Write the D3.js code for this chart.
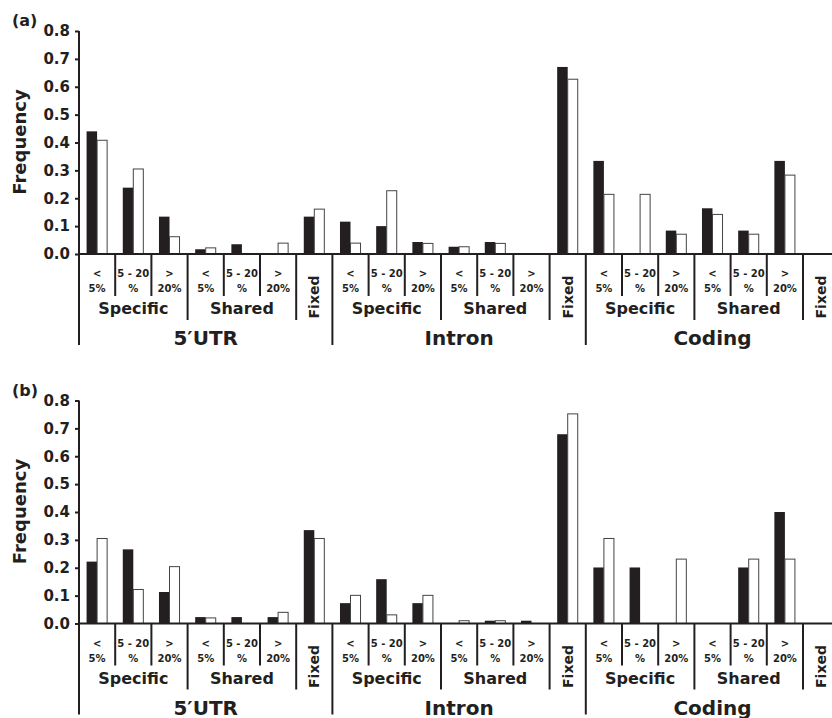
<!DOCTYPE html>
<html>
<head>
<meta charset="utf-8">
<script src="https://cdn.jsdelivr.net/npm/d3@7"></script>
<style>
  body { margin: 0; background: #fff; }
  text { font-family: "DejaVu Sans", sans-serif; font-weight: bold; fill: #231f20; }
</style>
</head>
<body>
<div id="chart"></div>
<script>
// categories
var regions = ["5′UTR", "Intron", "Coding"];
var groups = ["Specific", "Shared", "Fixed"];
var binLabels = [["<", "5%"], ["5 - 20", "%"], [">", "20%"]];
var yTicks = [0, 0.1, 0.2, 0.3, 0.4, 0.5, 0.6, 0.7, 0.8];

// series values, one per slot (region x group x bin)
var aBlack = [0.44, 0.238, 0.134, 0.017, 0.035, 0, 0.134,
              0.116, 0.100, 0.043, 0.026, 0.043, 0, 0.671,
              0.334, 0, 0.084, 0.164, 0.084, 0.334, 0];
var aWhite = [0.408, 0.305, 0.062, 0.022, 0, 0.039, 0.161,
              0.039, 0.227, 0.038, 0.026, 0.038, 0, 0.627,
              0.214, 0.214, 0.071, 0.142, 0.071, 0.283, 0];
var bBlack = [0.222, 0.266, 0.113, 0.023, 0.023, 0.023, 0.335,
              0.073, 0.159, 0.073, 0, 0.01, 0.01, 0.679,
              0.201, 0.201, 0, 0, 0.201, 0.40, 0];
var bWhite = [0.305, 0.122, 0.204, 0.020, 0, 0.040, 0.305,
              0.101, 0.031, 0.101, 0.01, 0.01, 0, 0.752,
              0.305, 0, 0.231, 0, 0.231, 0.231, 0];

var width = 832, height = 718;
var ink = "#231f20";

// build slot list
var slots = [];
regions.forEach(function(r, ri){
    groups.forEach(function(g, gi){
        if(g === "Fixed"){
            slots.push({region: ri, group: gi, bin: -1});
        } else {
            binLabels.forEach(function(b, bi){
                slots.push({region: ri, group: gi, bin: bi});
            });
        }
    });
});
slots.forEach(function(s, i){ s.i = i; });

var svg = d3.select("#chart").append("svg")
    .attr("width", width)
    .attr("height", height);

var x0 = 79, step = 36.2;
var x = d3.scaleBand()
    .domain(d3.range(slots.length))
    .range([x0, x0 + step*slots.length])
    .padding(0);

var xSub = d3.scaleBand()
    .domain(["black", "white"])
    .range([0, x.bandwidth()])
    .paddingInner(0)
    .paddingOuter(0.72);

function drawPanel(offsetY, label, blackVals, whiteVals){
    var g = svg.append("g").attr("transform", "translate(0," + offsetY + ")");

    var y = d3.scaleLinear().domain([0, 0.8]).range([254, 31]);

    // y axis
    var yAxis = d3.axisLeft(y)
        .tickValues(yTicks)
        .tickFormat(d3.format(".1f"))
        .tickSize(4)
        .tickPadding(5)
        .tickSizeOuter(0);
    var ya = g.append("g")
        .attr("transform", "translate(" + x0 + ",0)")
        .call(yAxis);
    ya.select(".domain").remove();
    ya.selectAll(".tick line").attr("stroke", ink).attr("stroke-width", 2);
    ya.selectAll(".tick text")
        .attr("font-size", "15px")
        .attr("font-family", "DejaVu Sans")
        .attr("font-weight", "bold")
        .attr("fill", ink);

    // bars
    var pairs = slots.map(function(s){
        return {i: s.i, black: blackVals[s.i], white: whiteVals[s.i]};
    });
    g.selectAll("rect.black")
        .data(pairs.filter(function(d){ return d.black > 0; }))
        .enter().append("rect")
        .attr("class", "black")
        .attr("x", function(d){ return x(d.i) + xSub("black"); })
        .attr("y", function(d){ return y(d.black); })
        .attr("width", xSub.bandwidth())
        .attr("height", function(d){ return y(0) - y(d.black); })
        .attr("fill", ink);
    g.selectAll("rect.white")
        .data(pairs.filter(function(d){ return d.white > 0; }))
        .enter().append("rect")
        .attr("class", "white")
        .attr("x", function(d){ return x(d.i) + xSub("white"); })
        .attr("y", function(d){ return y(d.white); })
        .attr("width", xSub.bandwidth() - 0.5)
        .attr("height", function(d){ return y(0) - y(d.white); })
        .attr("fill", "#fff")
        .attr("stroke", "#444")
        .attr("stroke-width", 1);

    // y axis line, running down as the left frame of the labels
    g.append("line")
        .attr("x1", x0).attr("x2", x0)
        .attr("y1", y(0.8)).attr("y2", 345)
        .attr("stroke", ink).attr("stroke-width", 2);

    // x axis line
    g.append("line")
        .attr("x1", x0).attr("x2", width)
        .attr("y1", y(0)).attr("y2", y(0))
        .attr("stroke", ink).attr("stroke-width", 2);

    // separators below the axis
    slots.forEach(function(s, i){
        if(i === 0) return;
        var prev = slots[i-1];
        var bottom;
        if(prev.region !== s.region) bottom = 345;
        else if(prev.group !== s.group) bottom = 320;
        else bottom = 296;
        g.append("line")
            .attr("x1", x(i)).attr("x2", x(i))
            .attr("y1", y(0)).attr("y2", bottom)
            .attr("stroke", ink).attr("stroke-width", 2);
    });

    // bin labels
    slots.forEach(function(s){
        var cx = x(s.i) + x.bandwidth()/2;
        if(s.bin >= 0){
            g.append("text")
                .attr("x", cx).attr("y", 277)
                .attr("text-anchor", "middle")
                .attr("font-size", "10px")
                .text(binLabels[s.bin][0]);
            g.append("text")
                .attr("x", cx).attr("y", 292)
                .attr("text-anchor", "middle")
                .attr("font-size", "10px")
                .text(binLabels[s.bin][1]);
        } else {
            g.append("text")
                .attr("transform", "translate(" + (cx + 5) + ",297) rotate(-90)")
                .attr("text-anchor", "middle")
                .attr("font-size", "14px")
                .text("Fixed");
        }
    });

    // group labels
    var groupSpans = d3.groups(slots.filter(function(s){ return s.bin >= 0; }),
        function(s){ return s.region + "-" + s.group; });
    groupSpans.forEach(function(gs){
        var list = gs[1];
        var cx = (x(list[0].i) + x(list[list.length-1].i) + x.bandwidth())/2;
        g.append("text")
            .attr("x", cx).attr("y", 314)
            .attr("text-anchor", "middle")
            .attr("font-size", "16px")
            .text(groups[list[0].group]);
    });

    // region labels
    regions.forEach(function(r, ri){
        var list = slots.filter(function(s){ return s.region === ri; });
        var cx = (x(list[0].i) + x(list[list.length-1].i) + x.bandwidth())/2;
        g.append("text")
            .attr("x", cx).attr("y", 345)
            .attr("text-anchor", "middle")
            .attr("font-size", "20px")
            .text(r);
    });

    // y title
    g.append("text")
        .attr("transform", "translate(26,142) rotate(-90)")
        .attr("text-anchor", "middle")
        .attr("font-size", "18px")
        .text("Frequency");

    // panel label
    g.append("text")
        .attr("x", 12).attr("y", 26)
        .attr("font-size", "16px")
        .text(label);
}

drawPanel(0, "(a)", aBlack, aWhite);
drawPanel(369.5, "(b)", bBlack, bWhite);
</script>
</body>
</html>
